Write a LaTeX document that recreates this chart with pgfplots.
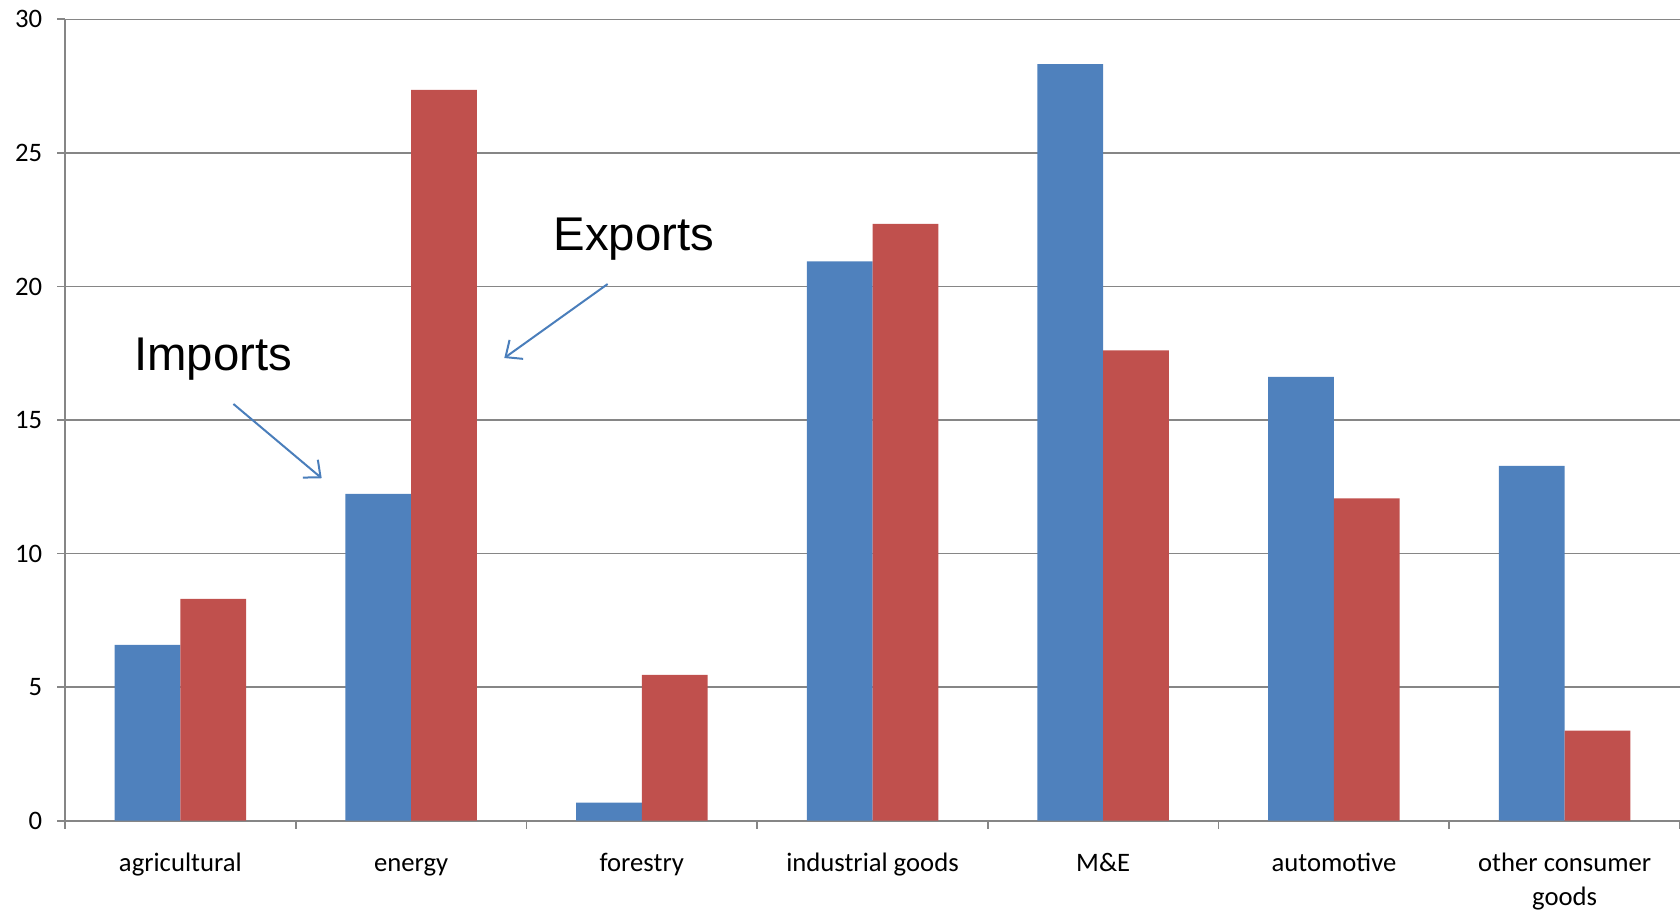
\documentclass[border=0pt]{standalone}
\usepackage{pgfplots}
\pgfplotsset{compat=1.18}
\usepackage{fontspec}
\setmainfont{Carlito}
\newfontfamily\arialfont{Liberation Sans}
\usetikzlibrary{arrows.meta}
\definecolor{impblue}{HTML}{4F81BD}
\definecolor{expred}{HTML}{C0504D}
\definecolor{axgray}{HTML}{868686}
\definecolor{arrblue}{HTML}{4A7EBB}
\begin{document}
\begin{tikzpicture}
\begin{axis}[
  name=ax,
  scale only axis,
  width=484.5pt, height=240.4pt,
  xmin=-0.5, xmax=6.5, ymin=0, ymax=30,
  axis x line=bottom, axis y line=left,
  axis line style={-, draw=axgray, line width=0.6pt},
  ybar=0pt, bar width=0.285,
  xtick={-0.5,0.5,...,6.5},
  x tick label as interval,
  xticklabels={{\strut agricultural},{\strut energy},{\strut forestry},{\strut industrial goods},{\strut M\&E},{\strut automotive},{\strut other consumer\\\strut goods}},
  ytick={0,5,...,30},
  tick align=outside,
  major tick length=2.4pt,
  tick style={draw=axgray, line width=0.5pt},
  ymajorgrids,
  grid style={draw=axgray, line width=0.45pt},
  /pgf/number format/assume math mode=true,
  tick label style={font=\fontsize{8}{10.3}\selectfont, text=black},
  xticklabel style={align=center, yshift=-2.1pt},
  yticklabel style={xshift=-0.9pt},
  clip=false,
]
\addplot[fill=impblue, draw=none] coordinates {(0,6.58) (1,12.23) (2,0.68) (3,20.94) (4,28.32) (5,16.61) (6,13.28)};
\addplot[fill=expred, draw=none] coordinates {(0,8.30) (1,27.36) (2,5.46) (3,22.34) (4,17.61) (5,12.07) (6,3.37)};
\node[anchor=base, font=\arialfont\fontsize{14.2}{16}\selectfont] at (axis cs:0.1415,16.87) {Imports};
\node[anchor=base, font=\arialfont\fontsize{14.2}{16}\selectfont] at (axis cs:1.966,21.34) {Exports};
\draw[arrblue, line width=0.6pt, -{Straight Barb[length=4pt,width=7pt]}] (axis cs:0.230,15.60) -- (axis cs:0.6126,12.82);
\draw[arrblue, line width=0.6pt, -{Straight Barb[length=4pt,width=7pt]}] (axis cs:1.852,20.09) -- (axis cs:1.404,17.32);
\end{axis}
\pgfresetboundingbox
\path ([xshift=-19.5pt,yshift=-26.7pt]ax.south west) rectangle ([yshift=5.8pt]ax.north east);
\end{tikzpicture}
\end{document}
